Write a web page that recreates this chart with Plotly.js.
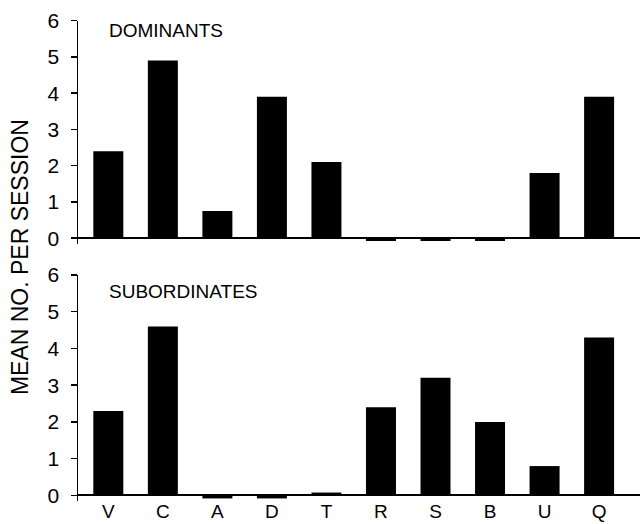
<!DOCTYPE html>
<html><head><meta charset="utf-8">
<script src="https://cdn.plot.ly/plotly-3.0.1.min.js"></script>
<style>body{margin:0;background:#fff}#chart{width:640px;height:524px}</style>
</head><body><div id="chart"></div>
<script>
var categories = ["V","C","A","D","T","R","S","B","U","Q"];
var dominants = [2.4, 4.9, 0.75, 3.9, 2.1, -0.08, -0.08, -0.08, 1.8, 3.9];
var subordinates = [2.3, 4.6, -0.08, -0.08, 0.08, 2.4, 3.2, 2.0, 0.8, 4.3];
var yTicks = [0,1,2,3,4,5,6];

var font = {family: "Liberation Sans, Arial, sans-serif", color: "#000"};
var traces = [
  {type:"bar", x:categories, y:dominants, xaxis:"x", yaxis:"y", marker:{color:"#000"}, hoverinfo:"none"},
  {type:"bar", x:categories, y:subordinates, xaxis:"x2", yaxis:"y2", marker:{color:"#000"}, hoverinfo:"none"}
];
function yax(dom){
  return {domain:dom, range:[-0.15,6], tickvals:yTicks, showgrid:false,
    zeroline:true, zerolinecolor:"#000", zerolinewidth:2,
    showline:true, linecolor:"#000", linewidth:1.5, ticks:"outside", ticklen:6, tickwidth:1.5, tickcolor:"#000",
    ticklabelstandoff:7, tickfont:Object.assign({size:21}, font), fixedrange:true};
}
function xax(anchor, showlabels){
  return {anchor:anchor, range:[-0.556,9.75], showgrid:false, zeroline:false, showline:false,
    ticks:"", showticklabels:showlabels, ticklabelstandoff:-3, tickfont:Object.assign({size:19}, font), fixedrange:true};
}
var layout = {
  width:640, height:524, paper_bgcolor:"#fff", plot_bgcolor:"#fff",
  margin:{l:78, r:0, t:20, b:23}, showlegend:false, bargap:0.45,
  font:font,
  xaxis: xax("y", false),
  yaxis: yax([0.535,0.9986]),
  xaxis2: xax("y2", true),
  yaxis2: yax([0,0.47]),
  annotations:[
    {text:"DOMINANTS", xref:"paper", yref:"paper", x:0.0516, y:(501-31)/481, xanchor:"left", yanchor:"middle", showarrow:false, font:Object.assign({size:19}, font)},
    {text:"SUBORDINATES", xref:"paper", yref:"paper", x:0.0516, y:(501-291)/481, xanchor:"left", yanchor:"middle", showarrow:false, font:Object.assign({size:19}, font)},
    {text:"MEAN NO. PER SESSION", xref:"paper", yref:"paper", x:-0.103, y:(501-257)/481, xanchor:"center", yanchor:"middle", textangle:-90, showarrow:false, font:Object.assign({size:23}, font)}
  ]
};
Plotly.newPlot("chart", traces, layout, {staticPlot:true, displayModeBar:false});
</script></body></html>
